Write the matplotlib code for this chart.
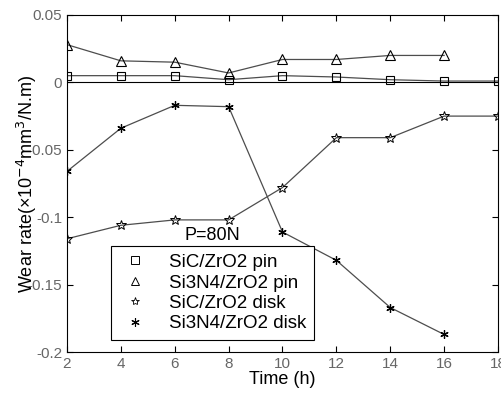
import matplotlib.pyplot as plt
from matplotlib.lines import Line2D

plt.rcParams['font.family'] = ['Liberation Sans', 'DejaVu Sans']

time_h = [2, 4, 6, 8, 10, 12, 14, 16, 18]
sic_pin = [0.005, 0.005, 0.005, 0.002, 0.005, 0.004, 0.002, 0.001, 0.001]
si3n4_pin = [0.028, 0.016, 0.015, 0.007, 0.017, 0.017, 0.020, 0.020]
sic_disk = [-0.116, -0.106, -0.102, -0.102, -0.078, -0.041, -0.041, -0.025, -0.025]
si3n4_disk = [-0.066, -0.034, -0.017, -0.018, -0.111, -0.132, -0.167, -0.187]

labels = ['SiC/ZrO2 pin', 'Si3N4/ZrO2 pin', 'SiC/ZrO2 disk', 'Si3N4/ZrO2 disk']
xticks = [2, 4, 6, 8, 10, 12, 14, 16, 18]
yticks = [0.05, 0, -0.05, -0.1, -0.15, -0.2]
ytick_labels = ['0.05', '0', '-0.05', '-0.1', '-0.15', '-0.2']

fig = plt.figure(figsize=(5.02, 3.94), dpi=100)
ax = fig.add_axes([67 / 502, 1 - 352 / 394, 431 / 502, 337 / 394])

lc = '0.3'
ax.axhline(0, color='black', lw=0.8)
ax.plot(time_h, sic_pin, color=lc, lw=0.9, marker='s', ms=6, mfc='none', mec='black', mew=0.8)
ax.plot(time_h[:len(si3n4_pin)], si3n4_pin, color=lc, lw=0.9, marker='^', ms=6.5, mfc='none', mec='black', mew=0.8)
ax.plot(time_h, sic_disk, color=lc, lw=0.9, marker='*', ms=7, mfc='none', mec='black', mew=0.7)
ax.plot(time_h[:len(si3n4_disk)], si3n4_disk, color=lc, lw=0.9, marker=(6, 2, 0), ms=6, mec='black', mew=0.9)

ax.set_xlim(2, 18)
ax.set_ylim(-0.2, 0.05)
ax.set_xticks(xticks)
ax.set_yticks(yticks)
ax.set_yticklabels(ytick_labels)
ax.tick_params(direction='in', top=True, right=True, labelsize=11, length=4, colors='black')
for lab in ax.get_xticklabels() + ax.get_yticklabels():
    lab.set_color('0.4')
ax.set_xlabel('Time (h)', fontsize=13, labelpad=0)
ax.set_ylabel('Wear rate(×10$^{-4}$mm$^3$/N.m)', fontsize=13, labelpad=-8)

handles = [
    Line2D([], [], ls='none', marker='s', ms=6, mfc='none', mec='black', mew=0.7),
    Line2D([], [], ls='none', marker='^', ms=6, mfc='none', mec='black', mew=0.7),
    Line2D([], [], ls='none', marker='*', ms=6, mfc='none', mec='black', mew=0.6),
    Line2D([], [], ls='none', marker=(6, 2, 0), ms=6, mec='black', mew=0.8),
]
leg = ax.legend(handles, labels, loc='lower left', bbox_to_anchor=((111 - 67) / 431, (352 - 340) / 337),
                fontsize=13.5, frameon=True, fancybox=False, edgecolor='black', framealpha=1,
                handlelength=1.8, handletextpad=0.9, borderpad=0.4, labelspacing=0.18, borderaxespad=0)
leg.get_frame().set_linewidth(0.8)
ax.text(212 / 502, 1 - 236 / 394, 'P=80N', transform=fig.transFigure, fontsize=13, ha='center', va='center')

fig.savefig('out.png', dpi=100)
